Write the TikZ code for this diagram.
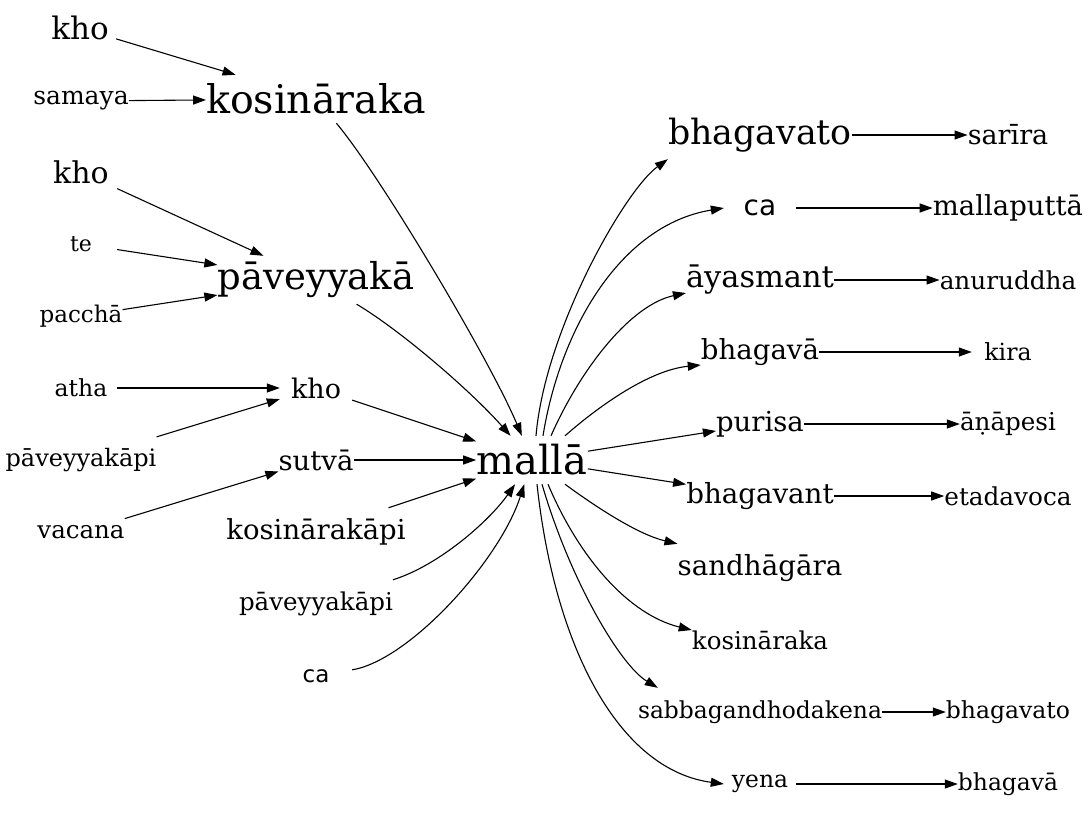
\documentclass[tikz,border=0pt]{standalone}
\usepackage{fontspec}
\setmainfont{DejaVu Serif}
\newfontfamily\sansf{DejaVu Sans}
\usetikzlibrary{arrows.meta}
\newcommand\fz[1]{\fontsize{#1}{#1}\selectfont}
\begin{document}
\begin{tikzpicture}[x=1pt,y=-1pt,
  nd/.style={rectangle, minimum width=72pt, minimum height=48pt, inner sep=0pt},
  arr/.style={line width=1.1pt, -{Triangle[length=13pt,width=9pt]}}]
\useasboundingbox (0,0) rectangle (1092,815);
% left column
\node[nd,font=\fz{31}] (kho1) at (80,28) {kho};
\node[nd,font=\fz{25}] (samaya) at (81,101) {samaya};
\node[nd,font=\fz{30}] (kho2) at (81,172) {kho};
\node[nd,font=\fz{22}] (te) at (81,244) {te};
\node[nd,font=\fz{23}] (paccha) at (81,316) {pacchā};
\node[nd,font=\fz{23.5}] (atha) at (81,388) {atha};
\node[nd,font=\fz{24}] (pavpi1) at (81,460) {pāveyyakāpi};
\node[nd,font=\fz{24.5}] (vacana) at (81,532) {vacana};
% middle column
\node[nd,font=\fz{39.5}] (kos) at (316,99) {kosināraka};
\node[nd,font=\fz{37}] (pav) at (316,280) {pāveyyakā};
\node[nd,font=\fz{27}] (kho3) at (316,388) {kho};
\node[nd,font=\fz{27.5}] (sutva) at (316,460) {sutvā};
\node[nd,font=\fz{27.5}] (kospi) at (316,532) {kosinārakāpi};
\node[nd,font=\fz{24.5}] (pavpi2) at (316,604) {pāveyyakāpi};
\node[nd,font=\sansf\fz{23}] (ca1) at (316,676) {ca};
% centre
\node[nd,font=\fz{40}] (malla) at (532,460) {mallā};
% right column
\node[nd,font=\fz{34.8}] (bhag1) at (760,135) {bhagavato};
\node[nd,font=\sansf\fz{28}] (ca2) at (760,208) {ca};
\node[nd,font=\fz{30.4}] (aya) at (760,280) {āyasmant};
\node[nd,font=\fz{27.6}] (bha1) at (760,352) {bhagavā};
\node[nd,font=\fz{27.5}] (purisa) at (760,424) {purisa};
\node[nd,font=\fz{27.7}] (bhant) at (760,496) {bhagavant};
\node[nd,font=\fz{27.7}] (sandh) at (760,568) {sandhāgāra};
\node[nd,font=\fz{24.5}] (kos2) at (760,640) {kosināraka};
\node[nd,font=\fz{23.4}] (sabb) at (760,712) {sabbagandhodakena};
\node[nd,font=\fz{23.4}] (yena) at (760,784) {yena};
% far right
\node[nd,font=\fz{27}] (sarira) at (1008,135) {sarīra};
\node[nd,font=\fz{27.5}] (mput) at (1008,208) {mallaputtā};
\node[nd,font=\fz{24.7}] (anu) at (1008,280) {anuruddha};
\node[nd,font=\fz{23.6}] (kira) at (1008,352) {kira};
\node[nd,font=\fz{24.6}] (anap) at (1008,424) {āṇāpesi};
\node[nd,font=\fz{24.7}] (etad) at (1008,496) {etadavoca};
\node[nd,font=\fz{23.5}] (bhag2) at (1008,712) {bhagavato};
\node[nd,font=\fz{23.4}] (bha2) at (1008,784) {bhagavā};
% edges left
\draw[arr] (kho1) -- (kos);
\draw[arr] (samaya) -- (kos);
\draw[arr] (kos) .. controls (380,175) and (490,360) .. (malla);
\draw[arr] (kho2) -- (pav);
\draw[arr] (te) -- (pav);
\draw[arr] (paccha) -- (pav);
\draw[arr] (pav) .. controls (400,330) and (470,390) .. (malla);
\draw[arr] (atha) -- (kho3);
\draw[arr] (pavpi1) -- (kho3);
\draw[arr] (kho3) -- (malla);
\draw[arr] (vacana) -- (sutva);
\draw[arr] (sutva) -- (malla);
\draw[arr] (kospi) -- (malla);
\draw[arr] (pavpi2) .. controls (440,565) and (490,520) .. (malla);
\draw[arr] (ca1) .. controls (410,660) and (500,560) .. (malla);
% edges right
\draw[arr] ([xshift=4pt]malla.north) .. controls (545,330) and (625,190) .. (bhag1.south west);
\draw[arr] ([xshift=11pt]malla.north) .. controls (560,330) and (620,225) .. (ca2.west);
\draw[arr] ([xshift=19pt]malla.north) .. controls (580,370) and (630,305) .. ([yshift=-13pt]aya.west);
\draw[arr] ([xshift=33pt]malla.north) .. controls (600,405) and (650,370) .. ([yshift=-13pt]bha1.west);
\draw[arr] (malla) -- (purisa);
\draw[arr] (malla) -- (bhant);
\draw[arr] ([xshift=33pt]malla.south) .. controls (600,510) and (640,535) .. (sandh.north west);
\draw[arr] ([xshift=16pt]malla.south) .. controls (580,560) and (630,615) .. ([yshift=10pt]kos2.west);
\draw[arr] ([xshift=10pt]malla.south) .. controls (570,580) and (620,665) .. ([xshift=20pt]sabb.north west);
\draw[arr] ([xshift=5pt]malla.south) .. controls (555,650) and (620,770) .. (yena.west);
% far right edges
\draw[arr] (bhag1) -- (sarira);
\draw[arr] (ca2) -- (mput);
\draw[arr] (aya) -- (anu);
\draw[arr] (bha1) -- (kira);
\draw[arr] (purisa) -- (anap);
\draw[arr] (bhant) -- (etad);
\draw[arr] (sabb) -- (bhag2);
\draw[arr] (yena) -- (bha2);
\end{tikzpicture}
\end{document}
